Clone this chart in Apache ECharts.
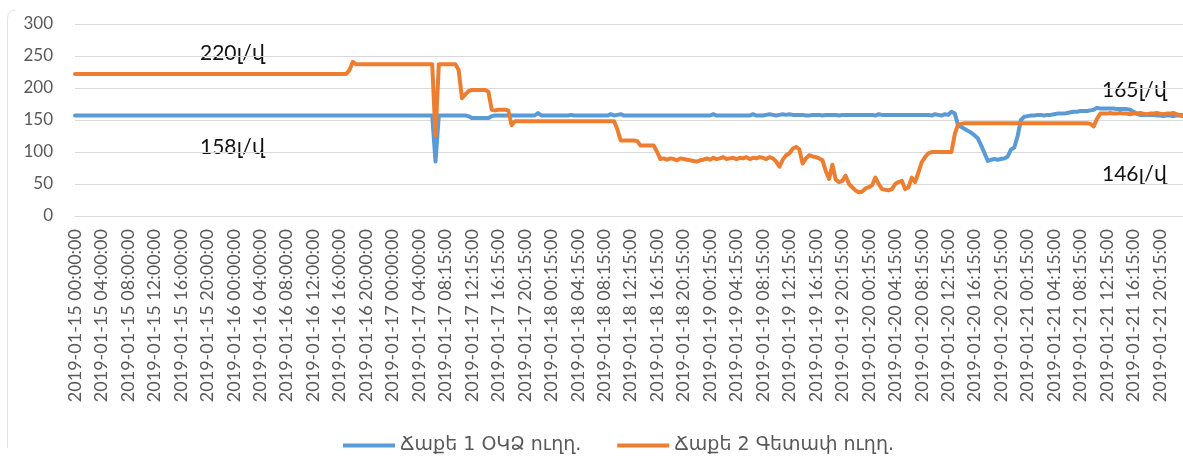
<!DOCTYPE html>
<html>
<head>
<meta charset="utf-8">
<script src="https://cdn.jsdelivr.net/npm/echarts@6/dist/echarts.min.js"></script>
<style>
html,body{margin:0;padding:0;background:#fff;}
#chart{width:1183px;height:459px;}
</style>
</head>
<body>
<div id="chart"></div>
<script>
// ---- data ----
const tickLabels = [
  "2019-01-15 00:00:00","2019-01-15 04:00:00","2019-01-15 08:00:00","2019-01-15 12:00:00","2019-01-15 16:00:00","2019-01-15 20:00:00",
  "2019-01-16 00:00:00","2019-01-16 04:00:00","2019-01-16 08:00:00","2019-01-16 12:00:00","2019-01-16 16:00:00","2019-01-16 20:00:00",
  "2019-01-17 00:00:00","2019-01-17 04:00:00","2019-01-17 08:15:00","2019-01-17 12:15:00","2019-01-17 16:15:00","2019-01-17 20:15:00",
  "2019-01-18 00:15:00","2019-01-18 04:15:00","2019-01-18 08:15:00","2019-01-18 12:15:00","2019-01-18 16:15:00","2019-01-18 20:15:00",
  "2019-01-19 00:15:00","2019-01-19 04:15:00","2019-01-19 08:15:00","2019-01-19 12:15:00","2019-01-19 16:15:00","2019-01-19 20:15:00",
  "2019-01-20 00:15:00","2019-01-20 04:15:00","2019-01-20 08:15:00","2019-01-20 12:15:00","2019-01-20 16:15:00","2019-01-20 20:15:00",
  "2019-01-21 00:15:00","2019-01-21 04:15:00","2019-01-21 08:15:00","2019-01-21 12:15:00","2019-01-21 16:15:00","2019-01-21 20:15:00"
];
const pointsPerTick = 8; // 30-minute samples between 4-hour labels

const seriesNames = ["Ճաքե 1 ՕԿՁ ուղղ.", "Ճաքե 2 Գետափ ուղղ."];

const line1Values = [
  157,157,157,157,157,157,157,157,
  157,157,157,157,157,157,157,157,
  157,157,157,157,157,157,157,157,
  157,157,157,157,157,157,157,157,
  157,157,157,157,157,157,157,157,
  157,157,157,157,157,157,157,157,
  157,157,157,157,157,157,157,157,
  157,157,157,157,157,157,157,157,
  157,157,157,157,157,157,157,157,
  157,157,157,157,157,157,157,157,
  157,157,157,157,157,157,157,157,
  157,157,157,157,157,157,157,157,
  157,157,157,157,157,157,157,157,
  157,157,157,157,157,85,157,157,
  157,157,157,157,157,157,157,156,
  153,153,153,153,153,153,156,157,
  157,157,157,157,157,157,157,157,
  157,157,157,157,161,157,157,157,
  157,157,157,157,157,157,158,157,
  157,157,157,157,157,157,157,157,
  157,157,159,157,158,159,157,157,
  157,157,157,157,157,157,157,157,
  157,157,157,157,157,157,157,157,
  157,157,157,157,157,157,157,157,
  157,159,157,157,157,157,157,157,
  157,157,157,157,157,159,157,157,
  157,158,159,158,157,158,159,158,
  159,158,158,158,158,157,157,158,
  158,158,157,158,158,158,158,157,
  158,158,158,158,158,158,158,158,
  158,158,157,159,158,158,158,158,
  158,158,158,158,158,158,158,158,
  158,158,158,157,159,158,157,159,
  158,163,160,142,139,136,133,130,
  126,121,110,98,86,88,89,88,
  89,90,93,104,107,125,150,155,
  156,157,157,158,158,157,158,158,
  159,160,160,160,161,162,163,163,
  164,164,164,165,166,169,168,168,
  168,168,168,167,167,167,167,166,
  163,160,158,158,158,158,158,157,
  157,156,157,157,156,157,157,156
];

const line2Values = [
  222,222,222,222,222,222,222,222,
  222,222,222,222,222,222,222,222,
  222,222,222,222,222,222,222,222,
  222,222,222,222,222,222,222,222,
  222,222,222,222,222,222,222,222,
  222,222,222,222,222,222,222,222,
  222,222,222,222,222,222,222,222,
  222,222,222,222,222,222,222,222,
  222,222,222,222,222,222,222,222,
  222,222,222,222,222,222,222,222,
  222,222,222,228,241,237,237,237,
  237,237,237,237,237,237,237,237,
  237,237,237,237,237,237,237,237,
  237,237,237,237,237,126,237,237,
  237,237,237,237,228,184,190,195,
  197,197,197,197,197,194,166,165,
  166,166,166,165,142,148,148,148,
  148,148,148,148,148,148,148,148,
  148,148,148,148,148,148,148,148,
  148,148,148,148,148,148,148,148,
  148,148,148,148,135,118,118,118,
  118,118,117,110,110,110,110,110,
  100,89,90,88,90,89,87,90,
  89,88,87,86,85,87,88,90,
  88,91,89,90,92,89,90,91,
  89,91,90,92,89,91,90,92,
  91,89,92,90,85,77,88,95,
  98,105,108,104,82,90,95,93,
  92,90,87,70,58,80,57,53,
  55,63,50,45,40,37,38,43,
  45,48,60,50,42,41,40,42,
  50,53,55,42,45,60,53,68,
  84,92,98,100,100,100,100,100,
  100,100,128,143,144,145,145,145,
  145,145,145,145,145,145,145,145,
  145,145,145,145,145,145,145,145,
  145,145,145,145,145,145,145,145,
  145,145,145,145,145,145,145,145,
  145,145,145,144,140,152,160,160,
  160,161,160,160,161,160,160,159,
  160,160,161,160,159,160,160,161,
  160,159,160,160,161,159,158,158
];

const annotations = [
  { text: "220լ/վ" },
  { text: "158լ/վ" },
  { text: "165լ/վ" },
  { text: "146լ/վ" }
];

// ---- build categories from tick labels ----
const categories = [];
for (let k = 0; k < tickLabels.length; k++) {
  for (let j = 0; j < pointsPerTick; j++) {
    categories.push(j === 0 ? tickLabels[k] : tickLabels[k] + " +" + (j * 30) + "m");
  }
}

const chart = echarts.init(document.getElementById('chart'), null, { renderer: 'canvas' });
const annPos = [[200, 53], [200, 147], [1102, 90], [1102, 174]];
const labelFont = 'Lato, "DejaVu Sans", sans-serif';

chart.setOption({
  backgroundColor: '#ffffff',
  animation: false,
  grid: { left: 75, right: 0, top: 24, bottom: 243, outerBoundsMode: 'none' },
  legend: {
    data: seriesNames,
    left: 338,
    top: 431,
    icon: 'rect',
    itemWidth: 52,
    itemHeight: 4,
    itemGap: 36,
    textStyle: { color: '#595959', fontSize: 19, fontFamily: '"DejaVu Sans", Lato, sans-serif' }
  },
  xAxis: {
    type: 'category',
    data: categories,
    boundaryGap: false,
    axisLine: { show: true, lineStyle: { color: '#d9d9d9', width: 1 } },
    axisTick: { show: false },
    axisLabel: {
      interval: pointsPerTick - 1,
      rotate: 90,
      margin: 13,
      color: '#595959',
      fontSize: 18,
      fontFamily: labelFont
    },
    splitLine: { show: false }
  },
  yAxis: {
    type: 'value',
    min: 0,
    max: 300,
    interval: 50,
    axisLine: { show: false },
    axisTick: { show: false },
    axisLabel: { margin: 22, color: '#595959', fontSize: 17, fontFamily: labelFont },
    splitLine: { lineStyle: { color: '#d9d9d9', width: 1 } }
  },
  series: [
    {
      name: seriesNames[0],
      type: 'line',
      data: line1Values,
      showSymbol: false,
      symbol: 'none',
      lineStyle: { color: '#5b9bd5', width: 4, join: 'round', cap: 'round' },
      itemStyle: { color: '#5b9bd5' }
    },
    {
      name: seriesNames[1],
      type: 'line',
      data: line2Values,
      showSymbol: false,
      symbol: 'none',
      lineStyle: { color: '#ed7d31', width: 4, join: 'round', cap: 'round' },
      itemStyle: { color: '#ed7d31' }
    }
  ],
  graphic: [
    {
      type: 'polyline',
      shape: { points: [[7.5, 448], [7.5, 18], [8.5, 13.5], [11.5, 10.8], [16, 10]] },
      style: { fill: null, stroke: '#e3e3e3', lineWidth: 1 },
      silent: true
    }
  ].concat(annotations.map((a, i) => ({
    type: 'text',
    x: annPos[i][0],
    y: annPos[i][1],
    silent: true,
    style: {
      text: a.text,
      fill: '#111111',
      font: '21px Lato, "DejaVu Sans", sans-serif',
      textAlign: 'left',
      textVerticalAlign: 'middle',
      verticalAlign: 'middle'
    }
  })))
});
</script>
</body>
</html>
